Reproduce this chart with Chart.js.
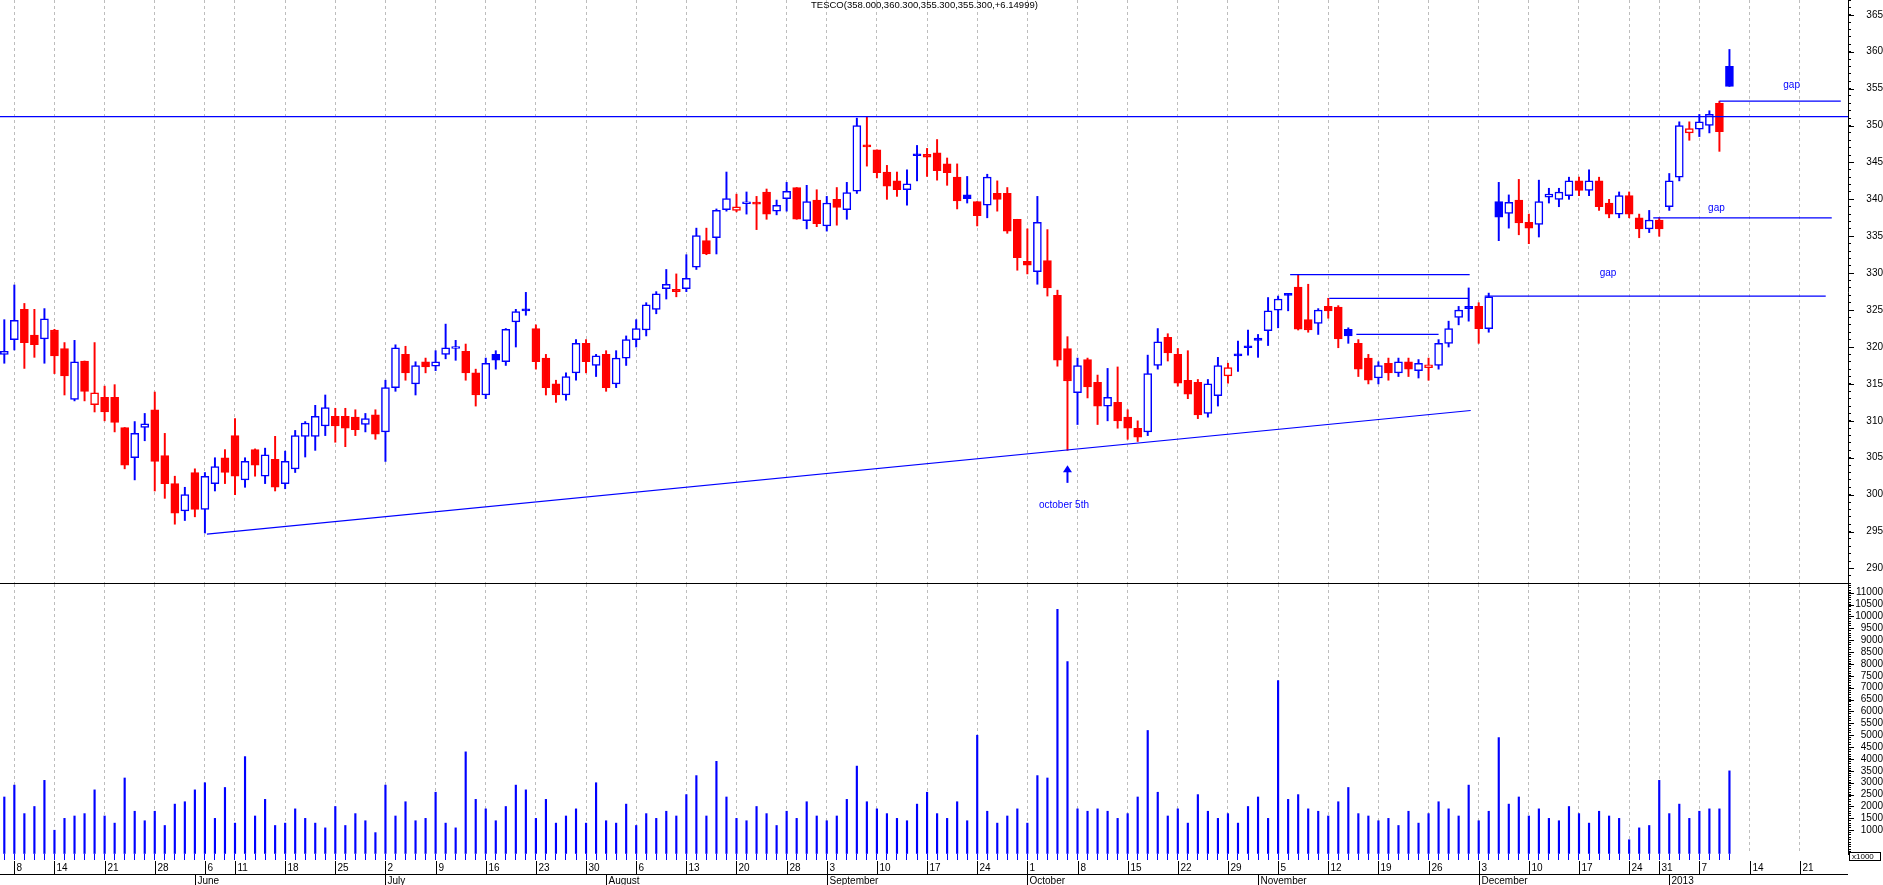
<!DOCTYPE html>
<html>
<head>
<meta charset="utf-8">
<script src="https://cdn.jsdelivr.net/npm/chart.js@4.4.1/dist/chart.umd.min.js"></script>
<style>
html,body{margin:0;padding:0;background:#fff;overflow:hidden}
#wrap{position:relative;width:1883px;height:885px;background:#fff}
#pc{position:absolute;left:0;top:0}
#vc{position:absolute;left:0;top:584px}
</style>
</head>
<body>
<div id="wrap">
<canvas id="pc" width="1883" height="584"></canvas>
<canvas id="vc" width="1883" height="301"></canvas>
</div>
<script>
// ---------------- DATA ----------------
const openP = [319.0,321.0,325.1,321.6,321.1,322.3,319.8,312.9,318.1,312.2,313.2,313.2,309.1,305.0,309.1,311.5,305.3,301.5,297.8,303.0,
298.0,301.5,305.0,308.0,302.0,306.1,302.5,304.8,301.5,303.5,307.9,307.9,309.3,310.6,310.6,310.5,309.5,310.8,308.5,314.5,
319.0,315.0,318.0,317.4,319.0,319.8,319.4,316.5,313.5,319.0,318.0,323.4,325.1,322.5,318.5,315.0,313.5,316.5,320.5,317.5,
319.0,315.0,318.5,321.0,322.3,325.1,327.9,327.8,327.9,330.8,334.4,334.8,338.6,338.5,339.4,339.45,341.0,338.4,340.1,341.6,
337.1,339.9,336.4,340.0,338.6,341.1,347.2,346.7,343.7,342.5,341.3,346.1,346.1,346.3,344.8,343.0,340.6,339.7,339.2,340.8,
340.8,337.3,331.6,330.2,331.7,327.0,319.8,313.8,318.3,315.2,312.0,312.5,310.5,309.0,308.5,317.5,321.3,319.0,315.5,315.2,
311.0,313.4,316.1,319.0,320.1,321.2,322.2,325.0,327.05,328.1,323.7,323.2,325.5,325.4,322.4,320.5,318.5,315.8,317.8,316.5,
318.0,316.8,317.2,317.5,320.5,324.0,325.5,325.5,322.5,339.7,338.1,339.9,336.9,336.6,340.3,340.0,340.5,342.5,341.2,342.5,
339.5,338.0,340.5,337.5,336.0,337.2,339.0,343.0,349.0,349.5,350.0,353.0,358.0];
const highP = [323.7,328.4,325.9,325.1,325.2,322.4,320.6,320.9,318.1,320.6,314.7,314.9,309.1,309.9,311.0,313.9,308.3,302.5,301.0,303.5,
303.0,305.0,306.1,310.3,305.0,306.2,306.3,307.9,305.9,308.7,309.9,312.1,313.5,311.7,311.7,311.5,311.0,311.5,315.5,320.3,
320.1,318.0,318.5,319.5,323.1,320.9,320.4,317.0,318.5,319.5,322.5,325.1,327.4,323.0,319.0,315.5,316.5,321.0,321.0,319.0,
319.5,319.5,321.5,323.7,326.0,327.5,330.5,329.9,332.5,336.1,336.1,338.7,343.7,340.7,341.0,340.4,341.4,339.9,342.3,341.6,
341.9,341.3,340.4,341.6,342.3,351.0,351.2,346.7,344.6,343.7,344.0,347.3,346.9,348.1,345.6,344.8,343.1,339.7,343.4,342.5,
341.6,337.3,336.0,340.4,335.9,327.7,321.4,318.5,318.5,316.2,317.1,317.3,311.5,310.0,318.9,322.5,321.8,319.8,319.5,315.6,
315.6,318.6,317.8,320.8,322.3,321.7,326.7,326.9,327.2,329.8,328.5,325.2,326.6,325.6,322.6,321.0,319.0,318.0,318.5,318.5,
318.5,318.3,318.5,321.0,323.5,325.5,328.0,326.0,327.3,342.3,340.6,342.7,338.0,342.6,341.5,341.5,343.0,343.0,344.0,343.0,
340.0,341.0,341.0,338.0,338.5,337.5,343.5,350.5,350.5,351.5,352.0,353.3,360.3];
const lowP = [317.8,319.6,317.1,318.6,317.8,316.4,313.5,312.7,312.7,311.2,310.0,308.5,303.5,302.0,307.3,300.5,299.5,296.0,296.5,297.0,
294.8,300.5,301.5,300.0,301.0,302.5,301.5,300.5,300.8,303.0,305.1,306.0,308.0,307.1,306.5,308.0,308.5,307.5,304.5,314.0,
315.5,313.5,316.5,316.8,318.4,318.2,315.5,312.0,313.0,317.0,317.5,320.0,324.3,317.0,313.5,312.5,312.8,315.5,316.5,316.0,
314.0,314.5,317.5,320.0,321.5,324.5,326.5,326.8,327.5,330.5,332.5,332.6,338.4,338.3,338.0,335.9,337.3,337.9,338.4,337.3,
336.0,336.3,335.7,336.5,337.3,340.8,344.5,342.9,340.0,340.4,339.2,342.5,343.1,342.6,341.9,338.7,339.5,336.4,337.5,338.4,
335.4,330.4,329.9,328.5,326.9,317.4,306.0,309.5,313.1,309.5,310.0,309.0,307.5,307.2,308.0,317.0,318.1,314.7,313.0,310.3,
310.5,312.0,315.1,316.7,318.9,318.6,320.2,322.6,324.9,322.3,322.0,321.7,323.9,319.9,320.5,316.0,315.0,315.0,315.5,316.0,
316.0,315.8,315.5,317.0,320.0,323.0,323.5,320.5,322.0,334.4,336.1,335.2,334.0,334.9,339.5,339.0,340.0,340.5,340.5,338.5,
337.5,337.5,337.5,334.8,335.5,335.0,338.5,342.5,348.0,348.5,349.0,346.5,355.3];
const closeP = [319.4,323.6,320.6,320.3,323.8,318.8,316.1,318.0,314.0,313.8,311.2,309.8,304.0,308.3,309.6,304.5,301.5,297.5,300.0,298.0,
302.5,303.8,303.0,302.5,304.5,304.0,305.4,301.0,304.5,308.0,309.7,310.6,311.8,309.3,309.0,308.8,310.3,308.2,314.5,319.9,
316.5,317.5,317.3,318.0,319.9,320.0,316.5,313.5,317.8,318.2,322.4,324.8,324.9,318.0,314.5,313.5,316.0,320.5,318.0,318.8,
314.5,318.5,321.0,322.5,325.7,327.2,328.5,327.5,329.3,335.1,332.6,338.5,340.1,339.0,339.5,339.35,338.0,339.2,341.1,337.3,
339.7,336.7,339.5,338.9,340.9,350.0,347.1,343.6,341.8,341.3,342.1,345.9,345.7,343.9,343.6,339.8,340.1,337.8,343.0,340.0,
335.7,332.1,331.1,336.9,328.0,318.2,315.4,317.5,314.6,312.0,313.2,310.0,309.0,307.8,316.4,320.7,319.2,315.1,313.6,310.8,
315.0,317.5,317.2,318.8,319.9,320.9,324.9,326.5,327.0,322.4,322.3,325.0,324.9,321.1,321.5,317.0,315.5,317.5,316.5,318.0,
317.0,317.8,317.6,320.5,322.5,325.0,325.2,322.5,326.8,337.6,339.6,336.8,336.1,339.7,340.7,341.0,342.5,341.2,342.5,339.0,
338.0,340.5,338.0,336.0,337.2,336.0,342.5,350.0,349.6,350.5,351.5,349.15,355.3];
const volume = [2400,2900,1700,2000,3100,1000,1500,1600,1700,2700,1600,1300,3200,1800,1400,1800,1200,2100,2200,2700,
3000,1500,2800,1300,4100,1600,2300,1200,1300,1900,1500,1300,1100,2000,1200,1700,1400,900,2900,1600,
2200,1400,1500,2600,1300,1100,4300,2300,1900,1400,2000,2900,2700,1500,2300,1300,1600,1900,1300,3000,
1400,1300,2100,1200,1700,1500,1800,1600,2500,3300,1600,3900,2400,1500,1400,2000,1700,1200,1800,1500,
2200,1600,1400,1600,2300,3700,2200,1900,1700,1500,1400,2100,2600,1700,1500,2200,1400,5000,1800,1300,
1600,1900,1300,3300,3200,10300,8100,1900,1800,1900,1800,1500,1700,2400,5200,2600,1600,1900,1300,2500,
1800,1500,1700,1300,2000,2400,1500,7300,2300,2500,1900,1800,1600,2200,2800,1700,1600,1400,1500,1200,
1800,1300,1700,2200,1900,1600,2900,1400,1800,4900,2100,2400,1600,1900,1500,1400,2000,1700,1300,1800,
1600,1500,600,1100,1200,3100,1700,2100,1500,1800,1900,1900,3500];

// x axis: trading-day index; week labels and month labels
const weekIdx    = [1,5,10,15,20,23,28,33,38,43,48,53,58,63,68,73,78,82,87,92,97,102,107,112,117,122,127,132,137,142,147,152,157,162,165,169,174,179];
const weekLabels = ['8','14','21','28','6','11','18','25','2','9','16','23','30','6','13','20','28','3','10','17','24','1','8','15','22','29','5','12','19','26','3','10','17','24','31','7','14','21'];
const monthIdx    = [19,38,60,82,102,125,147,166];
const monthLabels = ['June','July','August','September','October','November','December','2013'];

// axis ranges
const X_MIN = -0.43, X_MAX = 183.82;
const P_MIN = 287.9, P_MAX = 367.0;
const V_MAX = 11366;

// drawn lines (chart annotations)
const resistY = 351.2;
const trendX = [20.2, 146.2];
const trendY = [294.65, 311.4];
const hLineY  = [326.9, 337.5, 353.3, 329.8, 326.6, 321.7];
const hLineX0 = [147.6, 164.4, 171.0, 128.2, 132.1, 134.8];
const hLineX1 = [181.6, 182.2, 183.1, 146.1, 146.0, 143.0];
const noteText = ['gap','gap','gap','october 5th'];
const noteX = [178.2, 170.7, 159.9, 105.65];
const noteY = [355.5, 338.8, 330.0, 298.5];
const arrowX = 106;
const arrowY = [304.0, 301.6];
const titleText = 'TESCO(358.000,360.300,355.300,355.300,+6.14999)';

// ---------------- STYLE ----------------
const FONT = "'Liberation Sans Narrow','Liberation Sans',Arial,sans-serif";
const BLUE = '#0000ff', RED = '#ff0000', GRIDC = '#bdbdbd', CLEAR = 'rgba(0,0,0,0)';
const lastIdx = closeP.length - 1;
const weekSet = new Set(weekIdx);
const tickVals = closeP.map((_, i) => i).concat(weekIdx.filter(v => v > lastIdx));

function candleColor(i){ return (i === 0 || closeP[i] >= closeP[i-1]) ? BLUE : RED; }
function isHollow(i){ return closeP[i] > openP[i]; }
const idx = closeP.map((_, i) => i);

function xScaleOpts(drawTicks, tickLen){
  return {
    type: 'linear', position: 'bottom', min: X_MIN, max: X_MAX, offset: false,
    afterBuildTicks: s => { s.ticks = tickVals.map(v => ({value: v})); },
    afterFit: s => { s.height = tickLen; s.paddingLeft = 0; s.paddingRight = 0; },
    grid: {
      display: true, offset: false, drawOnChartArea: true, drawTicks: drawTicks, tickLength: 6,
      lineWidth: 1,
      color: c => (c.tick && weekSet.has(c.tick.value)) ? GRIDC : CLEAR,
      tickColor: c => (c.tick && c.tick.value <= lastIdx) ? BLUE : CLEAR,
      tickBorderDash: []
    },
    border: { display: false, dash: [3, 3] },
    ticks: { display: false }
  };
}

function yScaleOpts(min, max, step, major, labelMin, pad){
  return {
    type: 'linear', position: 'right', min: min, max: max,
    afterFit: s => { s.width = 35; s.paddingTop = 0; s.paddingBottom = 0; },
    grid: { display: true, drawOnChartArea: false, drawTicks: true, tickLength: 3, tickColor: '#000', color: '#000', lineWidth: 1 },
    border: { display: true, color: '#000', width: 1 },
    ticks: {
      stepSize: step, autoSkip: false, maxTicksLimit: 500, includeBounds: false,
      crossAlign: 'far', padding: pad, color: '#000',
      font: { family: FONT, size: 10 },
      callback: v => (Math.round(v) % major === 0 && v >= labelMin) ? String(Math.round(v)) : ''
    }
  };
}

// longer major ticks on the value axis
const majorTicks = {
  id: 'majorTicks',
  afterDraw(chart){
    const s = chart.scales.y, ctx = chart.ctx;
    ctx.save(); ctx.strokeStyle = '#000'; ctx.lineWidth = 1;
    s.ticks.forEach((t) => {
      if (t.label !== '' && t.label != null) {
        const py = Math.round(s.getPixelForValue(t.value)) + 0.5;
        ctx.beginPath(); ctx.moveTo(s.left, py); ctx.lineTo(s.left + 6, py); ctx.stroke();
      }
    });
    ctx.restore();
  }
};

// price chart extras: separator, title, notes, arrow
const priceExtras = {
  id: 'priceExtras',
  afterDraw(chart){
    const ctx = chart.ctx, xs = chart.scales.x, ys = chart.scales.y, ca = chart.chartArea;
    ctx.save();
    ctx.strokeStyle = '#000'; ctx.lineWidth = 1;
    ctx.beginPath(); ctx.moveTo(ca.left, ca.bottom - 0.5); ctx.lineTo(ca.right, ca.bottom - 0.5); ctx.stroke();
    ctx.fillStyle = '#000'; ctx.font = '9.5px ' + FONT; ctx.textBaseline = 'top'; ctx.textAlign = 'left';
    ctx.fillText(titleText, 811, 1);
    ctx.fillStyle = BLUE; ctx.font = '10px ' + FONT; ctx.textAlign = 'center'; ctx.textBaseline = 'middle';
    noteText.forEach((t, k) => ctx.fillText(t, xs.getPixelForValue(noteX[k]), ys.getPixelForValue(noteY[k])));
    const ax = xs.getPixelForValue(arrowX), ay0 = ys.getPixelForValue(arrowY[0]), ay1 = ys.getPixelForValue(arrowY[1]);
    ctx.beginPath(); ctx.moveTo(ax, ay0); ctx.lineTo(ax - 4.5, ay0 + 7); ctx.lineTo(ax + 4.5, ay0 + 7); ctx.closePath(); ctx.fill();
    ctx.fillRect(ax - 1, ay0 + 6, 2, ay1 - ay0 - 6);
    ctx.restore();
  }
};

// volume chart: date labels under the axis
const dateAxis = {
  id: 'dateAxis',
  afterDraw(chart){
    const ctx = chart.ctx, xs = chart.scales.x, ca = chart.chartArea;
    const b = ca.bottom;
    ctx.save();
    ctx.strokeStyle = '#000'; ctx.fillStyle = '#000'; ctx.lineWidth = 1;
    ctx.font = '10px ' + FONT; ctx.textAlign = 'left'; ctx.textBaseline = 'alphabetic';
    weekIdx.forEach((v, k) => {
      const px = Math.round(xs.getPixelForValue(v)) + 0.5;
      ctx.beginPath(); ctx.moveTo(px, b + 7); ctx.lineTo(px, b + 20); ctx.stroke();
      ctx.fillText(weekLabels[k], px + 2, b + 17);
    });
    ctx.beginPath(); ctx.moveTo(0, b + 20.5); ctx.lineTo(ca.right, b + 20.5); ctx.stroke();
    monthIdx.forEach((v, k) => {
      const px = Math.round(xs.getPixelForValue(v)) + 0.5;
      ctx.beginPath(); ctx.moveTo(px, b + 20); ctx.lineTo(px, b + 31); ctx.stroke();
      ctx.fillText(monthLabels[k], px + 2, b + 30);
    });
    // x1000 box
    ctx.fillStyle = '#fff'; ctx.fillRect(ca.right + 1, b - 2, 32, 9);
    ctx.strokeRect(ca.right + 1.5, b - 1.5, 31, 8);
    ctx.fillStyle = '#000'; ctx.font = '8px ' + FONT; ctx.textBaseline = 'middle';
    ctx.fillText('x1000', ca.right + 4, b + 2.5);
    ctx.restore();
  }
};

const common = {
  responsive: false, animation: false, devicePixelRatio: 1, events: [],
  layout: { padding: 0 },
  plugins: { legend: { display: false }, tooltip: { enabled: false }, title: { display: false } }
};

// ---------------- PRICE CHART ----------------
const lineSets = [];
lineSets.push({ type: 'line', data: [{x: X_MIN, y: resistY}, {x: X_MAX, y: resistY}] });
lineSets.push({ type: 'line', data: [{x: trendX[0], y: trendY[0]}, {x: trendX[1], y: trendY[1]}] });
hLineY.forEach((y, k) => lineSets.push({ type: 'line', data: [{x: hLineX0[k], y: y}, {x: hLineX1[k], y: y}] }));
lineSets.forEach(d => Object.assign(d, { borderColor: BLUE, borderWidth: 1.2, pointRadius: 0, fill: false, order: 0, clip: false }));

new Chart(document.getElementById('pc'), {
  type: 'bar',
  data: {
    datasets: [
      { type: 'bar', label: 'wick', data: idx.map(i => ({x: i, y: [lowP[i], highP[i]]})),
        backgroundColor: idx.map(candleColor), borderWidth: 0, barThickness: 1.3, grouped: false, order: 3 },
      { type: 'bar', label: 'body', data: idx.map(i => ({x: i, y: [openP[i], closeP[i]]})),
        backgroundColor: idx.map(i => isHollow(i) ? '#ffffff' : candleColor(i)),
        borderColor: idx.map(candleColor), borderWidth: 1.5, borderSkipped: false,
        barThickness: 8, grouped: false, minBarLength: 2, order: 2 }
    ].concat(lineSets)
  },
  options: Object.assign({}, common, {
    scales: {
      x: xScaleOpts(false, 0),
      y: yScaleOpts(P_MIN, P_MAX, 1, 5, 0, 11)
    }
  }),
  plugins: [majorTicks, priceExtras]
});

// ---------------- VOLUME CHART ----------------
new Chart(document.getElementById('vc'), {
  type: 'bar',
  data: {
    datasets: [
      { label: 'volume', data: idx.map(i => ({x: i, y: volume[i]})),
        backgroundColor: BLUE, borderWidth: 0, barThickness: 1.5, grouped: false }
    ]
  },
  options: Object.assign({}, common, {
    scales: {
      x: xScaleOpts(true, 31),
      y: yScaleOpts(0, V_MAX, 100, 500, 1000, 0)
    }
  }),
  plugins: [majorTicks, dateAxis]
});
</script>
</body>
</html>
